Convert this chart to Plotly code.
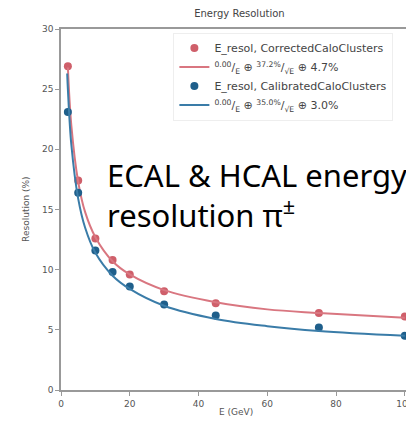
import plotly.graph_objects as go

# measured points
energy = [2, 5, 10, 15, 20, 30, 45, 75, 100]
res_corrected = [26.9, 17.4, 12.6, 10.8, 9.6, 8.2, 7.2, 6.4, 6.1]
res_calibrated = [23.1, 16.4, 11.6, 9.8, 8.6, 7.1, 6.2, 5.2, 4.5]

# fit curves
fit_energy_corr = [2, 3, 5, 7, 10, 15, 20, 30, 45, 60, 75, 100]
fit_corrected = [26.8, 22.0, 17.3, 14.8, 12.7, 10.7, 9.6, 8.3, 7.3, 6.7, 6.4, 6.0]
fit_energy_cal = [1.8, 2, 3, 5, 7, 10, 15, 20, 30, 45, 60, 75, 100]
fit_calibrated = [26.3, 25.0, 20.4, 15.9, 13.5, 11.4, 9.5, 8.4, 7.0, 5.9, 5.3, 4.9, 4.5]

red_pt = "#cf5f6a"
red_ln = "#d97680"
blue_pt = "#1f5f8b"
blue_ln = "#3a7ca8"
grey = "#555555"

fig = go.Figure()

fig.add_trace(go.Scatter(
    x=energy, y=res_corrected, mode="markers", name="E_resol, CorrectedCaloClusters",
    marker=dict(color=red_pt, size=8, symbol="circle"), cliponaxis=False
))
fig.add_trace(go.Scatter(
    x=fit_energy_corr, y=fit_corrected, mode="lines", line_shape="spline",
    name="<sup>0.00</sup>/<sub>E</sub> ⊕ <sup>37.2%</sup>/<sub>√E</sub> ⊕ 4.7%",
    line=dict(color=red_ln, width=2)
))
fig.add_trace(go.Scatter(
    x=energy, y=res_calibrated, mode="markers", name="E_resol, CalibratedCaloClusters",
    marker=dict(color=blue_pt, size=8, symbol="circle"), cliponaxis=False
))
fig.add_trace(go.Scatter(
    x=fit_energy_cal, y=fit_calibrated, mode="lines", line_shape="spline",
    name="<sup>0.00</sup>/<sub>E</sub> ⊕ <sup>35.0%</sup>/<sub>√E</sub> ⊕ 3.0%",
    line=dict(color=blue_ln, width=2)
))

# page body adds an 8px margin, so the figure is 8px smaller than the window
fig.update_layout(
    width=406, height=416,
    margin=dict(l=53, r=4, t=21, b=34, autoexpand=False),
    plot_bgcolor="white", paper_bgcolor="white",
    font=dict(family="DejaVu Sans", size=9, color=grey),
    title=dict(text="Energy Resolution", x=0.57, xanchor="center", y=0.995, yanchor="top",
               font=dict(size=10, color="#444444")),
    showlegend=True,
    legend=dict(
        x=0.322, xanchor="left", y=0.99, yanchor="top",
        bgcolor="rgba(255,255,255,0.9)", bordercolor="#eeeeee", borderwidth=1,
        font=dict(size=11, color="#444444"), tracegroupgap=0,
        itemwidth=30,
    ),
    annotations=[
        dict(text="ECAL &amp; HCAL energy<br>resolution π<sup>±</sup>", xref="paper", yref="paper",
             x=0.125, y=0.659, xanchor="left", yanchor="top", showarrow=False, align="left",
             font=dict(family="Noto Sans", size=31, color="black")),
        dict(text="Resolution (%)", xref="paper", yref="paper", x=-0.102, y=0.5,
             xanchor="center", yanchor="middle", textangle=-90, showarrow=False,
             font=dict(size=9, color=grey)),
        dict(text="E (GeV)", xref="paper", yref="paper", x=0.5, y=-0.061,
             xanchor="center", yanchor="middle", showarrow=False,
             font=dict(size=9, color=grey)),
    ],
)

fig.update_xaxes(
    range=[0, 101.5], tickvals=[0, 20, 40, 60, 80, 100], automargin=False,
    showgrid=False, zeroline=False, showline=True, linecolor="#999999", linewidth=1.5,
    mirror=True, ticks="outside", ticklen=4, tickcolor="#999999",
)
fig.update_yaxes(
    range=[0, 30], tickvals=[0, 5, 10, 15, 20, 25, 30], automargin=False,
    showgrid=False, zeroline=False, showline=True, linecolor="#999999", linewidth=1.5,
    ticks="outside", ticklen=4, tickcolor="#999999",
)

fig.write_html("out.html")
